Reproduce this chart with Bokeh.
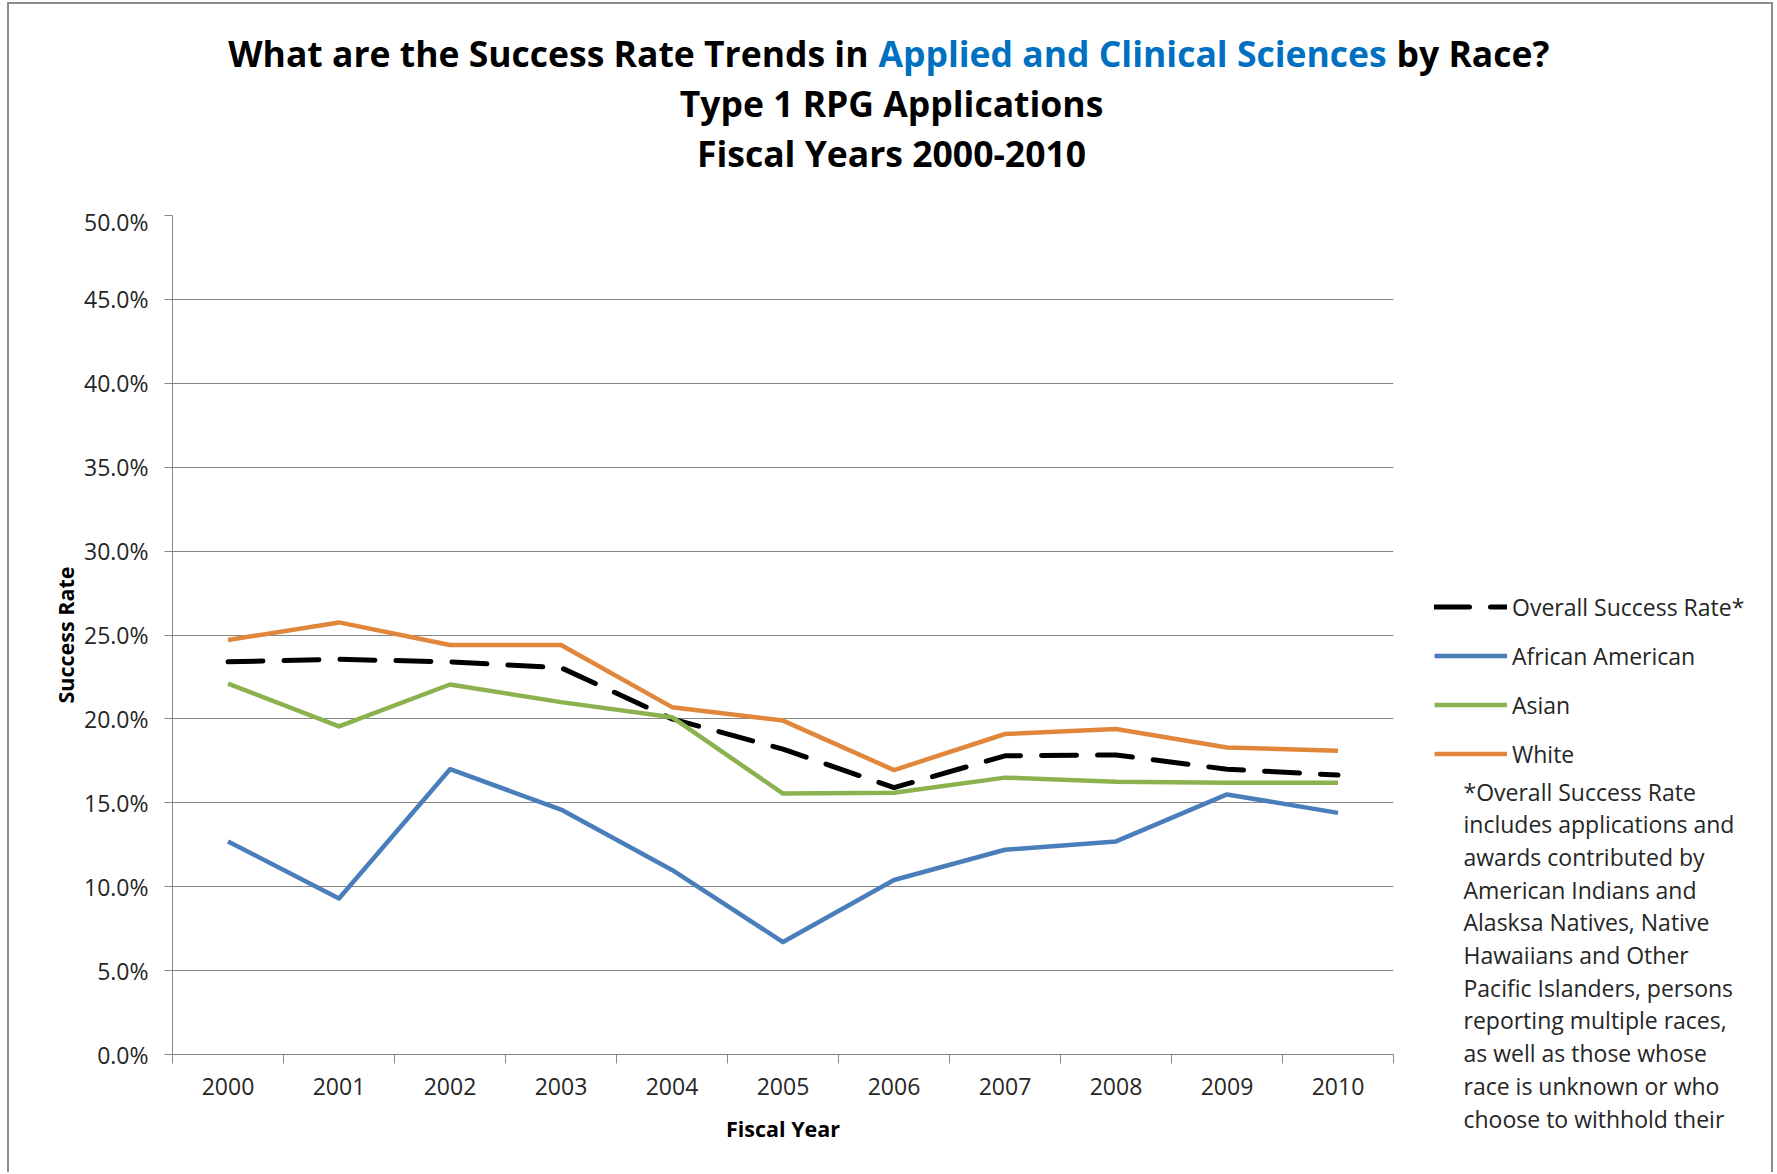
from bokeh.plotting import figure
from bokeh.layouts import column, row
from bokeh.models import FixedTicker, PrintfTickFormatter, Legend, LegendItem, Label, Range1d
from bokeh.embed import file_html
from bokeh.resources import INLINE

# ---------------- data ----------------
years = [2000, 2001, 2002, 2003, 2004, 2005, 2006, 2007, 2008, 2009, 2010]
overall = [23.4, 23.55, 23.4, 23.05, 20.0, 18.2, 15.9, 17.8, 17.85, 17.0, 16.65]
african_american = [12.7, 9.3, 17.0, 14.6, 11.0, 6.7, 10.4, 12.2, 12.7, 15.5, 14.4]
asian = [22.1, 19.55, 22.05, 21.0, 20.1, 15.55, 15.6, 16.5, 16.25, 16.2, 16.2]
white = [24.7, 25.75, 24.4, 24.4, 20.7, 19.9, 16.95, 19.1, 19.4, 18.3, 18.1]
y_ticks = [0, 5, 10, 15, 20, 25, 30, 35, 40, 45, 50]
series_names = ["Overall Success Rate*", "African American", "Asian", "White"]
title_line1 = ["What are the Success Rate Trends in", "Applied and Clinical Sciences", "by Race?"]
title_line2 = "Type 1 RPG Applications"
title_line3 = "Fiscal Years 2000-2010"
x_label = "Fiscal Year"
y_label = "Success Rate"
footnote_lines = [
    "*Overall Success Rate",
    "includes applications and",
    "awards contributed by",
    "American Indians and",
    "Alasksa Natives, Native",
    "Hawaiians and Other",
    "Pacific Islanders, persons",
    "reporting multiple races,",
    "as well as those whose",
    "race is unknown or who",
    "choose to withhold their",
]

# ---------------- geometry / style ----------------
OX, OY = 9, 4                 # page position of the canvas origin
TW, TH = 1762, 1168           # total size of the layout
HC = 205 - OY                 # title strip height
WA = 1403 - OX                # main plot width
HA = TH - HC                  # main plot / side strip height
WB = TW - WA                  # side strip width
FL, FT, FW, FH = 172 - OX, 10, 1221, 839   # main frame: left, top (within main plot), size

FONT = "Open Sans"
GRID = "#868686"
TXT = "#262626"
C_BLUE, C_GREEN, C_ORANGE = "#4A7EBB", "#8CB250", "#E1873C"
series = [overall, african_american, asian, white]
styles = [
    dict(line_color="black", line_width=5, line_dash="35 21", line_cap="round", line_join="round"),
    dict(line_color=C_BLUE, line_width=4.5, line_join="round"),
    dict(line_color=C_GREEN, line_width=4.5, line_join="round"),
    dict(line_color=C_ORANGE, line_width=4.5, line_join="round"),
]


def blank(w, h):
    f = figure(width=w, height=h, output_backend="svg", toolbar_location=None,
               x_range=Range1d(0, w), y_range=Range1d(h, 0),
               x_axis_location=None, y_axis_location=None, min_border=0)
    f.title.visible = False
    f.grid.visible = False
    f.outline_line_color = None
    f.background_fill_color = "white"
    f.border_fill_color = "white"
    return f


# ---------------- main plot ----------------
p = figure(width=WA, height=HA, output_backend="svg", toolbar_location=None,
           x_range=Range1d(years[0] - 0.5, years[-1] + 0.5), y_range=Range1d(0, 50),
           min_border_left=FL, min_border_right=WA - FL - FW,
           min_border_top=FT, min_border_bottom=HA - FT - FH)
p.title.visible = False
p.outline_line_color = None
p.background_fill_color = "white"
p.border_fill_color = "white"

p.xgrid.visible = False
p.ygrid.ticker = FixedTicker(ticks=y_ticks)
p.ygrid.grid_line_color = GRID
p.ygrid.grid_line_width = 1

ya = p.yaxis[0]
ya.ticker = FixedTicker(ticks=y_ticks)
ya.formatter = PrintfTickFormatter(format="%.1f%%")
ya.axis_line_color = GRID
ya.major_tick_line_color = GRID
ya.major_tick_out = 8
ya.major_tick_in = 0
ya.minor_tick_line_color = None
ya.major_label_standoff = 16
ya.major_label_text_font = FONT
ya.major_label_text_font_size = "23px"
ya.major_label_text_color = TXT
ya.axis_label = y_label
ya.axis_label_text_font = FONT
ya.axis_label_text_font_style = "bold"
ya.axis_label_text_font_size = "21.5px"
ya.axis_label_text_color = "black"
ya.axis_label_standoff = 1

xa = p.xaxis[0]
xa.ticker = FixedTicker(ticks=years, minor_ticks=[y - 0.5 for y in years] + [years[-1] + 0.5])
xa.major_label_overrides = {y: str(y) for y in years}
xa.axis_line_color = GRID
xa.major_tick_line_color = None
xa.major_tick_out = 0
xa.major_tick_in = 0
xa.minor_tick_line_color = GRID
xa.minor_tick_out = 9
xa.minor_tick_in = 0
xa.major_label_standoff = 14
xa.major_label_text_font = FONT
xa.major_label_text_font_size = "23px"
xa.major_label_text_color = TXT
xa.axis_label = x_label
xa.axis_label_text_font = FONT
xa.axis_label_text_font_style = "bold"
xa.axis_label_text_font_size = "21.5px"
xa.axis_label_text_color = "black"
xa.axis_label_standoff = 16

for vals, st in zip(series, styles):
    p.line(years, vals, **st)

# ---------------- side strip: legend + footnote ----------------
side = blank(WB, HA)
# same series drawn off-view in the strip: they only feed the legend glyphs
legend_renderers = [side.line(years, vals, **st) for vals, st in zip(series, styles)]
ITEM_H, ITEM_GAP = 31.7, 17
leg_top = 608 - 205 - ITEM_H / 2
leg_bottom = leg_top + 4 * ITEM_H + 3 * ITEM_GAP
legend = Legend(
    items=[LegendItem(label=n, renderers=[r]) for n, r in zip(series_names, legend_renderers)],
    location=(1434 - 1403, HA - leg_bottom), orientation="vertical",
    glyph_width=73, glyph_height=31, label_height=31, spacing=ITEM_GAP,
    padding=0, margin=0, border_line_color=None, background_fill_alpha=0,
    label_standoff=5, label_text_font=FONT, label_text_font_size="23px",
    label_text_color=TXT)
side.add_layout(legend)

for i, line in enumerate(footnote_lines):
    side.add_layout(Label(x=1463 - 1403, y=791 - 205 + i * 32.7, text=line,
                          text_font=FONT, text_font_size="23px",
                          text_baseline="middle", text_align="left", text_color=TXT))

# ---------------- title strip ----------------
top = blank(TW, HC)
TITLE_SIZE = "35.5px"
BLUE_W = 506
centres = [52, 102, 152]
kw = dict(text_font=FONT, text_font_style="bold", text_font_size=TITLE_SIZE,
          text_baseline="middle")
top.add_layout(Label(x=868 - OX, y=centres[0] - OY, text=title_line1[0], text_align="right",
                     text_color="black", **kw))
top.add_layout(Label(x=878 - OX, y=centres[0] - OY, text=title_line1[1], text_align="left",
                     text_color="#0070C0", **kw))
top.add_layout(Label(x=878 - OX + BLUE_W + 12, y=centres[0] - OY, text=title_line1[2],
                     text_align="left", text_color="black", **kw))
for txt, c in [(title_line2, centres[1]), (title_line3, centres[2])]:
    top.add_layout(Label(x=891 - OX, y=c - OY, text=txt, text_align="center",
                         text_color="black", **kw))

BORDER = "2px solid #8c8c8c"
layout = column(top, row(p, column(side)),
                styles={"margin-left": "7px", "margin-top": "2px",
                        "border-left": BORDER, "border-top": BORDER, "border-right": BORDER})

open("out.html", "w").write(file_html(layout, INLINE))
